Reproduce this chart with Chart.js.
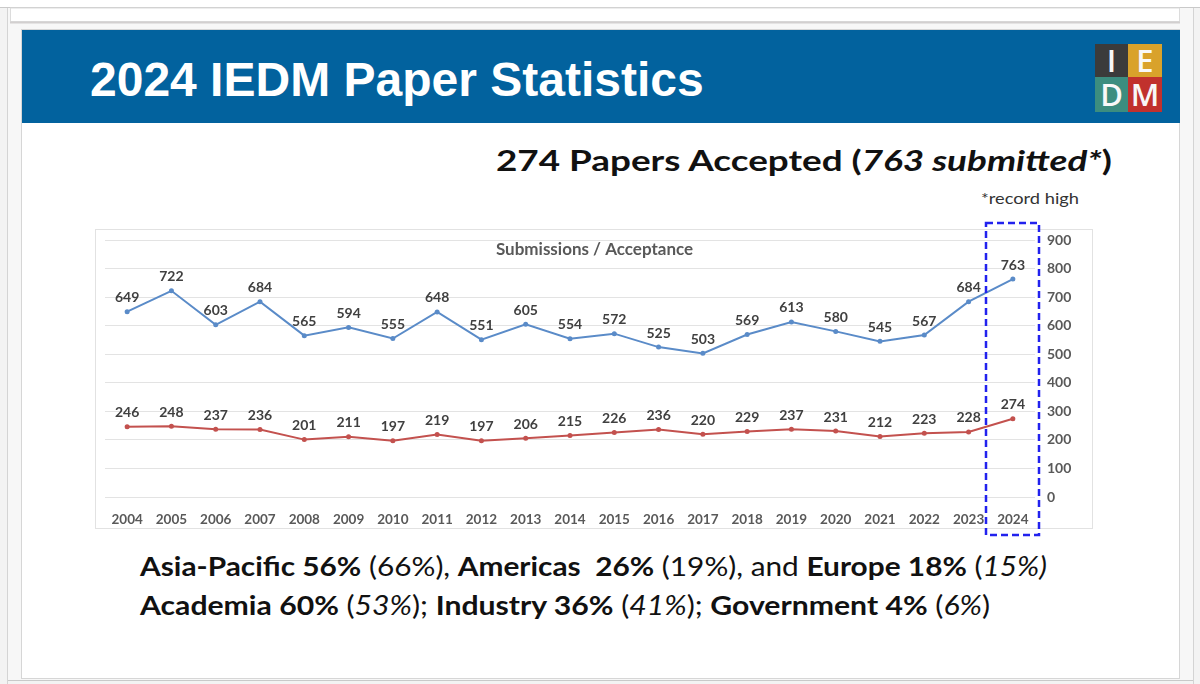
<!DOCTYPE html>
<html>
<head>
<meta charset="utf-8">
<script src="https://cdn.jsdelivr.net/npm/chart.js@4.4.1/dist/chart.umd.min.js"></script>
<style>
  html, body { margin: 0; padding: 0; }
  body { width: 1200px; height: 684px; position: relative; overflow: hidden; background: #f3f3f3; }
  #bg, #fg { position: absolute; left: 0; top: 0; }
  #bg { z-index: 0; }
  #fg { z-index: 2; pointer-events: none; }
  #chartWrap { position: absolute; left: 97px; top: 230px; width: 995px; height: 298px; z-index: 1; }
  svg text { white-space: pre; }
</style>
</head>
<body>

<svg id="bg" width="1200" height="684" xmlns="http://www.w3.org/2000/svg">
  <!-- window chrome -->
  <rect x="0" y="0" width="1200" height="684" fill="#f3f3f3"/>
  <rect x="0" y="0" width="1200" height="7" fill="#ffffff"/>
  <line x1="0" y1="7.5" x2="1200" y2="7.5" stroke="#c9c9c9" stroke-width="1"/>
  <line x1="7.5" y1="8" x2="7.5" y2="684" stroke="#d4d4d4" stroke-width="1"/>
  <line x1="1193.5" y1="8" x2="1193.5" y2="684" stroke="#d4d4d4" stroke-width="1"/>
  <rect x="8" y="8" width="1185" height="672" fill="#f7f7f7"/>
  <!-- previous slide sliver -->
  <rect x="10.5" y="8" width="1169" height="13.5" fill="#ffffff" stroke="#dcdcdc" stroke-width="1"/>
  <line x1="10" y1="22.5" x2="1180" y2="22.5" stroke="#d2cfcf" stroke-width="2"/>
  <!-- current slide -->
  <rect x="21.5" y="29.5" width="1158" height="649" fill="#ffffff" stroke="#d6d6d6" stroke-width="1"/>
  <line x1="8" y1="680.5" x2="1193" y2="680.5" stroke="#c9c9c9" stroke-width="1"/>

  <!-- header bar -->
  <rect x="22" y="30" width="1158" height="93" fill="#02629e"/>
  <text x="90" y="96" font-family="'Liberation Sans', Arial, sans-serif" font-weight="700" font-size="48" fill="#ffffff">2024 IEDM Paper Statistics</text>

  <!-- logo -->
  <rect x="1095" y="44" width="33" height="33" fill="#3b3b3b"/>
  <rect x="1128" y="44" width="34" height="33" fill="#d9a22b"/>
  <rect x="1095" y="77" width="33" height="35" fill="#3c8d7f"/>
  <rect x="1128" y="77" width="34" height="35" fill="#c1312d"/>
  <g font-family="'Open Sans', sans-serif" font-weight="600" font-size="31" fill="#f8f8f8" text-anchor="middle">
    <text x="1111.5" y="72">I</text>
    <text x="1145" y="72">E</text>
    <text x="1111.5" y="106">D</text>
    <text x="1145" y="106">M</text>
  </g>

  <!-- headline -->
  <text x="496" y="171" font-family="Lato, sans-serif" font-weight="700" font-size="29" fill="#111111" textLength="616" lengthAdjust="spacingAndGlyphs">274 Papers Accepted (<tspan font-style="italic">763 submitted*</tspan>)</text>
  <text x="981" y="204" font-family="Lato, sans-serif" font-weight="400" font-size="16" fill="#333333" textLength="98" lengthAdjust="spacingAndGlyphs">*record high</text>

  <!-- chart box border -->
  <rect x="95.5" y="229.5" width="997" height="299" fill="#ffffff" stroke="#e2e2e2" stroke-width="1"/>

  <!-- bottom statements -->
  <text x="140" y="576" font-family="Lato, sans-serif" font-size="27.5" fill="#111111" textLength="907" lengthAdjust="spacingAndGlyphs"><tspan font-weight="700">Asia-Pacific 56%</tspan> (66%), <tspan font-weight="700">Americas  26%</tspan> (19%), and <tspan font-weight="700">Europe 18%</tspan> (<tspan font-style="italic">15%)</tspan></text>
  <text x="140" y="615" font-family="Lato, sans-serif" font-size="27.5" fill="#111111" textLength="850" lengthAdjust="spacingAndGlyphs"><tspan font-weight="700">Academia 60%</tspan> (<tspan font-style="italic">53%</tspan>); <tspan font-weight="700">Industry 36%</tspan> (<tspan font-style="italic">41%</tspan>); <tspan font-weight="700">Government 4%</tspan> (<tspan font-style="italic">6%</tspan>)</text>
</svg>

<div id="chartWrap"><canvas id="chart" width="995" height="298"></canvas></div>

<svg id="fg" width="1200" height="684" xmlns="http://www.w3.org/2000/svg">
  <rect x="986" y="223" width="53" height="312" fill="none" stroke="#2222ee" stroke-width="2.5" stroke-dasharray="7 4"/>
</svg>

<script>
// ---- data ----
const years = ['2004','2005','2006','2007','2008','2009','2010','2011','2012','2013','2014',
               '2015','2016','2017','2018','2019','2020','2021','2022','2023','2024'];
const submissions = [649,722,603,684,565,594,555,648,551,605,554,572,525,503,569,613,580,545,567,684,763];
const accepted    = [246,248,237,236,201,211,197,219,197,206,215,226,236,220,229,237,231,212,223,228,274];
const yAxisMin = 0;
const yAxisMax = 900;
const yAxisStep = 100;
const chartTitle = 'Submissions / Acceptance';

const valueLabels = {
  id: 'valueLabels',
  afterDatasetsDraw(chart) {
    const ctx = chart.ctx;
    ctx.save();
    ctx.font = 'bold 14px Lato, sans-serif';
    ctx.fillStyle = '#404040';
    ctx.textAlign = 'center';
    ctx.textBaseline = 'middle';
    chart.data.datasets.forEach((ds, i) => {
      chart.getDatasetMeta(i).data.forEach((pt, j) => {
        ctx.fillText(String(ds.data[j]), pt.x, pt.y - 14);
      });
    });
    ctx.font = 'bold 17px Lato, sans-serif';
    ctx.fillStyle = '#595959';
    ctx.fillText(chartTitle, chart.width / 2, 20);
    ctx.restore();
  }
};

const xTickFont = { family: 'Lato, sans-serif', weight: 'bold', size: 13.5 };
const yTickFont = { family: 'Lato, sans-serif', weight: 'bold', size: 14 };

new Chart(document.getElementById('chart'), {
  type: 'line',
  data: {
    labels: years,
    datasets: [
      { label: 'Submitted', data: submissions, borderColor: '#5a8bc8', backgroundColor: '#5a8bc8',
        borderWidth: 2, pointRadius: 2.5, pointBorderWidth: 0, tension: 0 },
      { label: 'Accepted', data: accepted, borderColor: '#c3514e', backgroundColor: '#c3514e',
        borderWidth: 2, pointRadius: 2.5, pointBorderWidth: 0, tension: 0 }
    ]
  },
  options: {
    responsive: false,
    animation: false,
    layout: { padding: { left: 8, top: 10, right: 0, bottom: 0 } },
    plugins: { legend: { display: false }, tooltip: { enabled: false }, title: { display: false } },
    scales: {
      x: {
        offset: true,
        grid: { display: false },
        border: { display: false },
        ticks: { font: xTickFont, color: '#595959', padding: 7, maxRotation: 0, autoSkip: false },
        afterFit(s) { s.height = 31; s.paddingLeft = 0; s.paddingRight = 0; }
      },
      y: {
        position: 'right',
        min: yAxisMin, max: yAxisMax,
        grid: { color: '#e3e3e3', drawTicks: false, lineWidth: 1 },
        border: { display: false },
        ticks: { stepSize: yAxisStep, font: yTickFont, color: '#595959', padding: 12 },
        afterFit(s) { s.width = 57; s.paddingTop = 0; s.paddingBottom = 0; }
      }
    }
  },
  plugins: [valueLabels]
});
</script>
</body>
</html>
